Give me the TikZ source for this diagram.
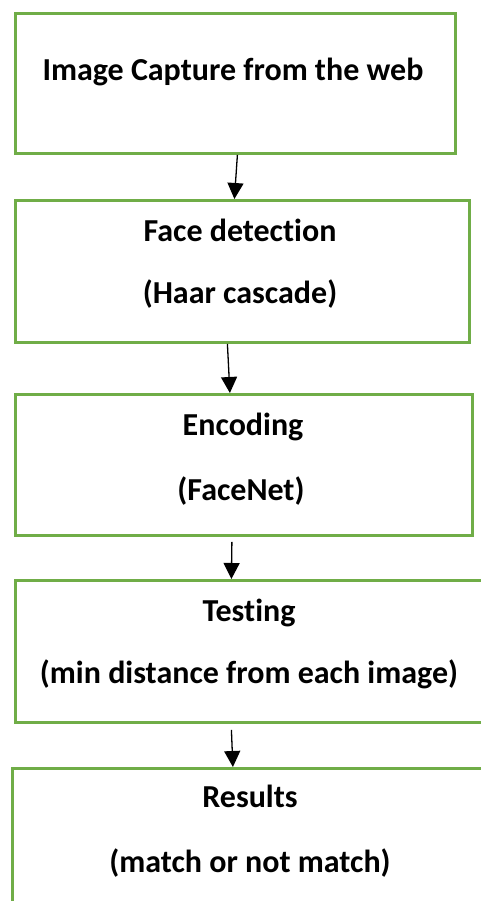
\documentclass[tikz,border=0pt]{standalone}
\usepackage{fontspec}
\setmainfont[Ligatures={NoCommon}]{Carlito}
\usetikzlibrary{arrows.meta,calc}
\definecolor{boxgreen}{RGB}{112,173,71}
\tikzset{
  stepbox/.style={draw=boxgreen, line width=2.8pt, rectangle, inner sep=0pt, anchor=north west},
  lbl/.style={font=\fontsize{32}{34}\selectfont\bfseries, anchor=base, inner sep=0pt},
  conn/.style={line width=1.3pt, -{Triangle[width=16pt,length=16pt]}}
}
\begin{document}
\begin{tikzpicture}[x=1pt,y=-1pt]
\path[use as bounding box] (0,0) rectangle (481,901);
\clip (0,0) rectangle (481,901);
\node[stepbox, minimum width=440pt, minimum height=140pt] (b1) at (14,12) {};
\node[stepbox, minimum width=454pt, minimum height=142pt] (b2) at (14,199) {};
\node[stepbox, minimum width=457pt, minimum height=141pt] (b3) at (14,393) {};
\node[stepbox, minimum width=480pt, minimum height=142pt] (b4) at (14,579) {};
\node[stepbox, minimum width=485pt, minimum height=160pt] (b5) at (11,767) {};
\node[lbl] (t1) at (233,81) {Image Capture from the web};
\node[lbl] (t2a) at (240,241) {Face detection};
\node[lbl] (t2b) at (240,303) {(Haar cascade)};
\node[lbl] (t3a) at (243,435) {Encoding};
\node[lbl] (t3b) at (241,500) {(FaceNet)};
\node[lbl] (t4a) at (249,621) {Testing};
\node[lbl] (t4b) at (249,683) {(min distance from each image)};
\node[lbl] (t5a) at (250,807) {Results};
\node[lbl] (t5b) at (250,872) {(match or not match)};
\draw[conn] ([xshift=2pt]b1.south) -- ([xshift=-8pt]b2.north);
\draw[conn] ([xshift=-15pt]b2.south) -- ([xshift=-14pt]b3.north);
\draw[conn] ([xshift=-12pt,yshift=-5pt]b3.south) -- ([xshift=-24pt]b4.north);
\draw[conn] ([xshift=-24pt,yshift=-6pt]b4.south) -- ([xshift=-22pt]b5.north);
\end{tikzpicture}
\end{document}
